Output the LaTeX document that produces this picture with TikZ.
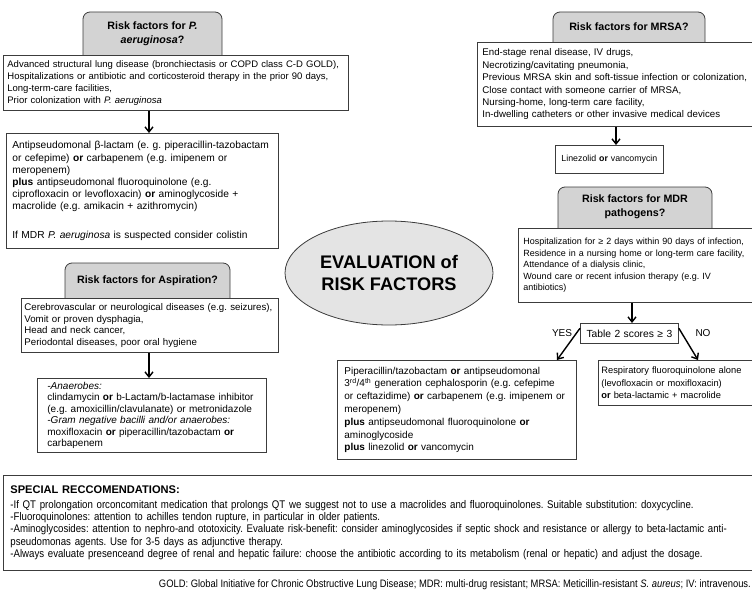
\documentclass[tikz,border=0pt]{standalone}
\usepackage{fontspec}
\setmainfont{Liberation Sans}
\newfontfamily\narrowfont[FakeStretch=0.87]{Liberation Sans}
\usetikzlibrary{shapes.geometric,arrows.meta}
\frenchspacing

\definecolor{hdgray}{HTML}{D3D3D3}
\definecolor{evgray}{HTML}{E4E4E4}
\definecolor{edge}{HTML}{3C3C3C}

\begin{document}
\begin{tikzpicture}[x=1pt, y=-1pt,
		hdshape/.style = {draw=edge, fill=hdgray, line width=0.8pt, rounded corners=7pt},
		hdtext/.style = {font=\fontsize{10.7}{13.5}\selectfont\bfseries, align=center, inner sep=0pt},
		txtbox/.style = {draw=edge, fill=white, line width=0.8pt, align=left, anchor=north west,
			inner xsep=5pt, inner ysep=0pt, font=\fontsize{10}{12}\selectfont},
		arr/.style = {-{Straight Barb[length=5pt, width=8pt]}, line width=1.4pt},
		lbl/.style = {font=\fontsize{10}{12}\selectfont, inner sep=0pt}]
		\useasboundingbox (0,0) rectangle (752,591);
		\clip (0,0) rectangle (752,591);

		% left column: P. aeruginosa
		\draw [hdshape] (83,63) -- (83,12) -- (222,12) -- (222,63);
		\node [hdtext] (pahead) at (152.5,33.5) {Risk factors for \textit{P.}\\\textit{aeruginosa}?};
		\node [txtbox, text width=337, inner xsep=4pt, minimum height=55, font=\fontsize{9.5}{11.8}\selectfont] (pafac) at (3,55) {Advanced structural lung disease (bronchiectasis or COPD class C-D GOLD),\\
			Hospitalizations or antibiotic and corticosteroid therapy in the prior 90 days,\\
			Long-term-care facilities,\\
			Prior colonization with \textit{P. aeruginosa}};
		\node [txtbox, inner xsep=6pt, text width=260, minimum height=115, font=\fontsize{10.2}{12.2}\selectfont] (patx) at (6,133) {Antipseudomonal β-lactam (e. g. piperacillin-tazobactam\\
			or cefepime) \textbf{or} carbapenem (e.g. imipenem or\\
			meropenem)\\
			\textbf{plus} antipseudomonal fluoroquinolone (e.g.\\
			ciprofloxacin or levofloxacin) \textbf{or} aminoglycoside +\\
			macrolide (e.g. amikacin + azithromycin)\\[16pt]
			If MDR \textit{P. aeruginosa} is suspected consider colistin};
		\draw [arr] ([xshift=146pt]pafac.south west) -- ([xshift=143pt]patx.north west);

		% left column: aspiration
		\draw [hdshape] (65,306) -- (65,263) -- (230,263) -- (230,306);
		\node [hdtext] (asphead) at (147.5,280.5) {Risk factors for Aspiration?};
		\node [txtbox, inner xsep=3pt, text width=251, minimum height=54, font=\fontsize{9.7}{11.7}\selectfont] (aspfac) at (21,298) {Cerebrovascular or neurological diseases (e.g. seizures),\\
			Vomit or proven dysphagia,\\
			Head and neck cancer,\\
			Periodontal diseases, poor oral hygiene};
		\node [txtbox, inner xsep=10pt, text width=209, minimum height=74, font=\fontsize{10}{11.5}\selectfont] (asptx) at (37,378) {\textit{-Anaerobes:}\\
			clindamycin \textbf{or} b-Lactam/b-lactamase inhibitor\\
			(e.g. amoxicillin/clavulanate) or metronidazole\\
			\textit{-Gram negative bacilli and/or anaerobes:}\\
			moxifloxacin \textbf{or} piperacillin/tazobactam \textbf{or}\\
			carbapenem};
		\draw [arr] ([xshift=128pt]aspfac.south west) -- ([xshift=112pt]asptx.north west);

		% centre
		\node [ellipse, draw=edge, fill=evgray, line width=0.8pt, minimum width=208, minimum height=104,
			align=center, font=\fontsize{18.2}{22}\selectfont\bfseries] (evalrf) at (389,273) {EVALUATION of\\RISK FACTORS};

		% right column: MRSA
		\draw [hdshape] (553,50) -- (553,12) -- (705,12) -- (705,50);
		\node [hdtext] (mrsahead) at (629,27) {Risk factors for MRSA?};
		\node [txtbox, text width=300, minimum height=84, font=\fontsize{9.7}{12.4}\selectfont] (mrsafac) at (477,42) {End-stage renal disease, IV drugs,\\
			Necrotizing/cavitating pneumonia,\\
			Previous MRSA skin and soft-tissue infection or colonization,\\
			Close contact with someone carrier of MRSA,\\
			Nursing-home, long-term care facility,\\
			In-dwelling catheters or other invasive medical devices};
		\node [txtbox, align=center, inner xsep=0pt, text width=108, minimum height=28, font=\fontsize{8.8}{11}\selectfont] (mrsatx) at (555,145) {Linezolid \textbf{or} vancomycin};
		\draw [arr] ([xshift=139pt]mrsafac.south west) -- ([xshift=61pt]mrsatx.north west);

		% right column: MDR
		\draw [hdshape] (558,236) -- (558,187) -- (712,187) -- (712,236);
		\node [hdtext] (mdrhead) at (635,207) {Risk factors for MDR\\pathogens?};
		\node [txtbox, text width=300, minimum height=74, font=\fontsize{9}{11.6}\selectfont] (mdrfac) at (518,228) {Hospitalization for ≥ 2 days within 90 days of infection,\\
			Residence in a nursing home or long-term care facility,\\
			Attendance of a dialysis clinic,\\
			Wound care or recent infusion therapy (e.g. IV\\
			antibiotics)};
		\node [txtbox, align=center, inner xsep=0pt, text width=98, minimum height=20, font=\fontsize{10.3}{12}\selectfont] (score) at (580,323) {Table 2 scores ≥ 3};
		\draw [arr] ([xshift=114pt]mdrfac.south west) -- ([xshift=52pt]score.north west);

		\node [txtbox, inner xsep=7pt, text width=225, minimum height=99, font=\fontsize{10}{12.8}\selectfont] (piptx) at (337,360) {Piperacillin/tazobactam \textbf{or} antipseudomonal\\
			3\textsuperscript{rd}/4\textsuperscript{th} generation cephalosporin (e.g. cefepime\\
			or ceftazidime) \textbf{or} carbapenem (e.g. imipenem or\\
			meropenem)\\
			\textbf{plus} antipseudomonal fluoroquinolone \textbf{or}\\
			aminoglycoside\\
			\textbf{plus} linezolid \textbf{or} vancomycin};
		\node [txtbox, inner xsep=3pt, text width=200, minimum height=45, font=\fontsize{9.3}{12.5}\selectfont] (lowtx) at (598,360) {Respiratory fluoroquinolone alone\\
			(levofloxacin or moxifloxacin)\\
			\textbf{or} beta-lactamic + macrolide};
		\draw [arr] (score.174) -- ([xshift=220pt]piptx.north west);
		\draw [arr] (score.6) -- ([xshift=100pt]lowtx.north west);
		\node [lbl] (yes) at (562,333) {YES};
		\node [lbl] (no) at (703,333) {NO};

		% bottom notes
		\node [txtbox, inner xsep=7pt, text width=750, minimum height=95, font=\narrowfont\fontsize{11.1}{12.3}\selectfont] (special) at (3,475) {{\rmfamily\bfseries SPECIAL RECCOMENDATIONS:}\\[2pt]
			-If QT prolongation orconcomitant medication that prolongs QT we suggest not to use a macrolides and fluoroquinolones. Suitable substitution: doxycycline.\\
			-Fluoroquinolones: attention to achilles tendon rupture, in particular in older patients.\\
			-Aminoglycosides: attention to nephro-and ototoxicity. Evaluate risk-benefit: consider aminoglycosides if septic shock and resistance or allergy to beta-lactamic anti-\\
			pseudomonas agents. Use for 3-5 days as adjunctive therapy.\\
			-Always evaluate presenceand degree of renal and hepatic failure: choose the antibiotic according to its metabolism (renal or hepatic) and adjust the dosage.};
		\node [anchor=east, inner sep=0pt, font=\narrowfont\fontsize{10.8}{12}\selectfont] (gloss) at (751,585) {GOLD: Global Initiative for Chronic Obstructive Lung Disease; MDR: multi-drug resistant; MRSA: Meticillin-resistant \textit{S. aureus}; IV: intravenous.};
	\end{tikzpicture}
\end{document}
